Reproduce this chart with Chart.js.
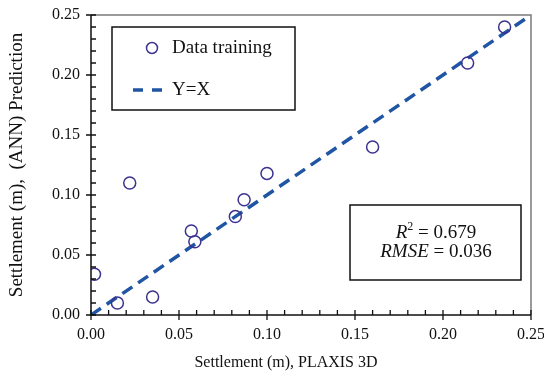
<!DOCTYPE html>
<html>
<head>
<meta charset="utf-8">
<script src="https://cdn.jsdelivr.net/npm/chart.js@4/dist/chart.umd.min.js"></script>
<style>
	html, body { margin: 0; padding: 0; background: #fff; }
	#wrap { width: 544px; height: 377px; position: relative; }
</style>
</head>
<body>
<div id="wrap"><canvas id="chart" width="544" height="377"></canvas></div>
<script>
'use strict';

// PLAXIS 3D settlement (x) vs ANN prediction (y), metres
var plaxis = [0.002, 0.015, 0.035, 0.057, 0.059, 0.082, 0.087, 0.022, 0.100, 0.160, 0.214, 0.235];
var annPred = [0.034, 0.010, 0.015, 0.070, 0.061, 0.082, 0.096, 0.110, 0.118, 0.140, 0.210, 0.240];
var identityLine = [0, 0.25];
var axisMin = 0;
var axisMax = 0.25;
var majorStep = 0.05;
var minorStep = 0.01;
var r2 = 0.679;
var rmse = 0.036;
var xTitle = 'Settlement (m), PLAXIS 3D';
var yTitle = 'Settlement (m),  (ANN) Prediction';

var SERIF = '"Liberation Serif", "DejaVu Serif", serif';
var POINT_COLOR = '#3b3390';
var LINE_COLOR = '#1f55a3';

var points = plaxis.map(function (x, i) {
	return {x: x, y: annPred[i]};
});
var linePts = identityLine.map(function (v) {
	return {x: v, y: v};
});

function drawFrameAndTicks(chart) {
	var ctx = chart.ctx;
	var a = chart.chartArea;
	var xs = chart.scales.x;
	var ys = chart.scales.y;
	var n = Math.round((axisMax - axisMin) / minorStep);
	var i, v, p, major;

	ctx.save();
	// top + right border
	ctx.strokeStyle = '#7a7a7a';
	ctx.lineWidth = 1.5;
	ctx.beginPath();
	ctx.moveTo(a.left, a.top);
	ctx.lineTo(a.right, a.top);
	ctx.lineTo(a.right, a.bottom);
	ctx.stroke();

	// axes
	ctx.strokeStyle = '#111';
	ctx.beginPath();
	ctx.moveTo(a.left, a.top);
	ctx.lineTo(a.left, a.bottom);
	ctx.lineTo(a.right, a.bottom);
	ctx.stroke();

	ctx.lineWidth = 1.3;
	ctx.beginPath();
	for (i = 0; i <= n; i++) {
		v = axisMin + i * minorStep;
		major = i % Math.round(majorStep / minorStep) === 0;
		p = xs.getPixelForValue(v);
		ctx.moveTo(p, a.bottom - 5);
		ctx.lineTo(p, a.bottom + (major ? 5 : 0));
		p = ys.getPixelForValue(v);
		ctx.moveTo(a.left + 5, p);
		ctx.lineTo(a.left - (major ? 5 : 0), p);
	}
	ctx.stroke();

	// x axis title (sits left of centre in the original)
	ctx.fillStyle = '#111';
	ctx.font = '16px ' + SERIF;
	ctx.textAlign = 'center';
	ctx.textBaseline = 'middle';
	ctx.fillText(xTitle, 286, 363);
	ctx.restore();
}

var boxesPlugin = {
	id: 'boxes',
	afterDatasetsDraw: function (chart) {
		var ctx = chart.ctx;
		var ds = chart.data.datasets;

		drawFrameAndTicks(chart);

		ctx.save();
		// legend box
		ctx.fillStyle = '#fff';
		ctx.fillRect(112, 27, 183, 83);
		ctx.strokeStyle = '#111';
		ctx.lineWidth = 1.5;
		ctx.strokeRect(112, 27, 183, 83);

		ctx.font = '19px ' + SERIF;
		ctx.fillStyle = '#111';
		ctx.textBaseline = 'middle';
		ctx.textAlign = 'left';

		ctx.strokeStyle = ds[0].borderColor;
		ctx.lineWidth = 1.5;
		ctx.beginPath();
		ctx.arc(152, 48, 5.5, 0, Math.PI * 2);
		ctx.stroke();
		ctx.fillText(ds[0].label, 172, 48);

		ctx.strokeStyle = ds[1].borderColor;
		ctx.lineWidth = 3.5;
		ctx.setLineDash([10, 9]);
		ctx.beginPath();
		ctx.moveTo(133, 90);
		ctx.lineTo(163, 90);
		ctx.stroke();
		ctx.setLineDash([]);
		ctx.fillText(ds[1].label, 172, 90);

		// statistics box
		ctx.fillStyle = '#fff';
		ctx.fillRect(350, 205, 171, 75);
		ctx.strokeStyle = '#111';
		ctx.lineWidth = 1.5;
		ctx.strokeRect(350, 205, 171, 75);

		ctx.fillStyle = '#111';
		var cx = 436;
		var l1a = 'R';
		var l1b = ' = ' + r2.toFixed(3);
		ctx.font = 'italic 19px ' + SERIF;
		var wA = ctx.measureText(l1a).width;
		ctx.font = '12px ' + SERIF;
		var wS = ctx.measureText('2').width;
		ctx.font = '19px ' + SERIF;
		var wB = ctx.measureText(l1b).width;
		var x0 = cx - (wA + wS + wB) / 2;
		ctx.font = 'italic 19px ' + SERIF;
		ctx.fillText(l1a, x0, 233);
		ctx.font = '12px ' + SERIF;
		ctx.fillText('2', x0 + wA, 227);
		ctx.font = '19px ' + SERIF;
		ctx.fillText(l1b, x0 + wA + wS, 233);

		var l2a = 'RMSE';
		var l2b = ' = ' + rmse.toFixed(3);
		ctx.font = 'italic 19px ' + SERIF;
		wA = ctx.measureText(l2a).width;
		ctx.font = '19px ' + SERIF;
		wB = ctx.measureText(l2b).width;
		x0 = cx - (wA + wB) / 2;
		ctx.font = 'italic 19px ' + SERIF;
		ctx.fillText(l2a, x0, 252);
		ctx.font = '19px ' + SERIF;
		ctx.fillText(l2b, x0 + wA, 252);
		ctx.restore();
	}
};

var config = {
	type: 'scatter',
	data: {
		datasets: [{
			label: 'Data training',
			data: points,
			pointRadius: 6,
			pointHoverRadius: 6,
			borderWidth: 1.5,
			borderColor: POINT_COLOR,
			backgroundColor: 'rgba(255,255,255,0)'
		}, {
			type: 'line',
			label: 'Y=X',
			data: linePts,
			borderColor: LINE_COLOR,
			borderWidth: 3.5,
			borderDash: [12, 7],
			pointRadius: 0,
			fill: false
		}]
	},
	options: {
		responsive: false,
		animation: false,
		layout: {padding: {left: 0, top: 15, right: 13, bottom: 0}},
		plugins: {
			legend: {display: false},
			tooltip: {enabled: false}
		},
		scales: {
			x: {
				type: 'linear',
				min: axisMin,
				max: axisMax,
				grid: {display: false, drawTicks: false},
				border: {display: false},
				ticks: {
					stepSize: majorStep,
					padding: 10,
					color: '#111',
					font: {family: SERIF, size: 16},
					callback: function (v) { return v.toFixed(2); }
				},
				title: {display: false},
				afterFit: function (scale) {
					scale.height = 62;
					scale.paddingLeft = 0;
					scale.paddingRight = 0;
				}
			},
			y: {
				type: 'linear',
				min: axisMin,
				max: axisMax,
				grid: {display: false, drawTicks: false},
				border: {display: false},
				ticks: {
					stepSize: majorStep,
					padding: 11,
					color: '#111',
					font: {family: SERIF, size: 16},
					callback: function (v) { return v.toFixed(2); }
				},
				title: {
					display: true,
					text: yTitle,
					color: '#111',
					font: {family: SERIF, size: 19},
					padding: {top: 6, bottom: 0}
				},
				afterFit: function (scale) {
					scale.width = 91;
					scale.paddingTop = 0;
					scale.paddingBottom = 0;
				}
			}
		}
	},
	plugins: [boxesPlugin]
};

new Chart(document.getElementById('chart').getContext('2d'), config);
</script>
</body>
</html>
